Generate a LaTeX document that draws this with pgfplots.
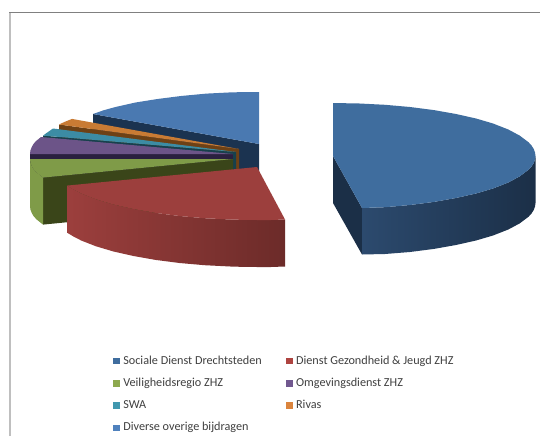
\documentclass[border=0pt]{standalone}
\usepackage{fontspec}
\setmainfont{Carlito}
\usepackage{pgfplots}
\pgfplotsset{compat=1.18}
\definecolor{blueTop}{HTML}{3F6D9E}
\definecolor{blueCut}{HTML}{1B2F47}
\definecolor{blueSide}{HTML}{2C4A6E}
\definecolor{redTop}{HTML}{9C3F3D}
\definecolor{redMid}{HTML}{8E3B39}
\definecolor{redDark}{HTML}{6C2B29}
\definecolor{greenTop}{HTML}{7F9B48}
\definecolor{greenCut}{HTML}{3A4519}
\definecolor{purpleTop}{HTML}{6C5488}
\definecolor{purpleCut}{HTML}{2A203F}
\definecolor{tealTop}{HTML}{3C8CA4}
\definecolor{tealCut}{HTML}{17404C}
\definecolor{orangeTop}{HTML}{C97B34}
\definecolor{orangeCut}{HTML}{6E4115}
\definecolor{skyTop}{HTML}{4A79B1}
\definecolor{skyCut}{HTML}{1B3350}
\definecolor{keyRed}{HTML}{AE4440}
\definecolor{keyGreen}{HTML}{8DA94E}
\definecolor{keyPurple}{HTML}{71588F}
\definecolor{keyTeal}{HTML}{4198AF}
\definecolor{keyOrange}{HTML}{DB843D}
\definecolor{keySky}{HTML}{4F81BD}
\begin{document}
\begin{tikzpicture}
\begin{axis}[
    scale only axis, width=540pt, height=436pt,
    xmin=0, xmax=540, ymin=0, ymax=436, y dir=reverse,
    axis lines=none,
    legend columns=2,
    legend cell align=left,
    legend image code/.code={\fill[draw=none,#1] (0pt,-3.4pt) rectangle (7.4pt,3.4pt);},
    legend style={at={(113/540,1-355/436)}, anchor=north west, draw=none, fill=none,
        inner sep=0pt, outer sep=0pt,
        font=\fontsize{12.2}{14}\selectfont, text=black!75,
        nodes={inner sep=0pt, text height=9pt, text depth=3pt},
        row sep=10.3pt,
        /tikz/every odd column/.append style={column sep=2.9pt},
        /tikz/every even column/.append style={column sep=24pt}},
]
% page and frame
\addplot[forget plot, fill=white, draw=none] coordinates {(0,0) (540,0) (540,436) (0,436)};
\addplot[forget plot, draw=black!25, line width=1.6pt] coordinates {(9.8,436) (9.8,12.5)};
\addplot[forget plot, draw=black!50, line width=0.9pt] coordinates {(9,12.5) (540,12.5)};

% Diverse overige bijdragen
\addplot[forget plot, fill=skyCut, draw=none] coordinates {(93,114) (259,144) (259,191) (93,161)};
\addplot[forget plot, fill=skyTop, draw=none] coordinates {(259,144) (93,114) (103.5,110.3) (115.5,107) (135.5,102.5) (157.5,99) (181,96) (206.5,93.6) (232.5,92.3) (259,92)};

% Rivas
\addplot[forget plot, fill=orangeCut, draw=none] coordinates {(239,149) (59,124.5) (59,171.5) (239,196)};
\addplot[forget plot, fill=orangeTop, draw=none] coordinates {(239,149) (59,124.5) (65,121.7) (72,118.9)};

% SWA
\addplot[forget plot, fill=tealCut, draw=none] coordinates {(236,152) (43,135.6) (43,182.6) (236,199)};
\addplot[forget plot, fill=tealTop, draw=none] coordinates {(236,152) (43,135.6) (47,132.7) (53,128.5)};

% Omgevingsdienst ZHZ
\addplot[forget plot, fill=purpleCut, draw=none] coordinates {(233,154) (30,154) (30,201) (233,201)};
\addplot[forget plot, fill=purpleTop, draw=none] coordinates {(233,154) (30,154) (30.4,150.5) (31.7,147.1) (33.5,144) (35.5,141.5) (41,137)};

% Veiligheidsregio ZHZ
\addplot[forget plot, fill=greenCut, draw=none] coordinates {(233,159) (43,177.6) (43,224.6) (233,206)};
\addplot[forget plot, fill=greenTop, draw=none] coordinates {(43,177.6) (36.9,172.7) (33.8,169.5) (31.7,165.9) (30.4,162.5) (30,159) (30,206) (30.4,209.5) (31.7,212.9) (33.8,216.5) (36.9,219.7) (43,224.6)};
\addplot[forget plot, fill=greenTop, draw=none] coordinates {(233,159) (43,177.6) (36.9,172.7) (33.8,169.5) (31.7,165.9) (30.4,162.5) (30,159)};

% Dienst Gezondheid & Jeugd ZHZ
\addplot[forget plot, left color=redTop, middle color=redMid, right color=redDark, draw=none]
    coordinates {(285,219.5) (271,220) (257,220) (243.7,219.9) (230.5,219.5) (204.5,218.2) (179.5,216) (155.5,212.9) (133.5,209) (113.5,204.5) (96,199.3) (81.2,193.5) (73.5,189.5) (67,185.6)
                 (67,232.6) (73.5,236.5) (81.2,240.5) (96,246.3) (113.5,251.5) (133.5,256) (155.5,259.9) (179.5,263) (204.5,265.2) (230.5,266.5) (243.7,266.9) (257,267) (271,267) (285,266.5)};
\addplot[forget plot, fill=redTop, draw=none]
    coordinates {(257,167) (285,219.5) (271,220) (257,220) (243.7,219.9) (230.5,219.5) (204.5,218.2) (179.5,216) (155.5,212.9) (133.5,209) (113.5,204.5) (96,199.3) (81.2,193.5) (73.5,189.5) (67,185.6)};

% Sociale Dienst Drechtsteden
\addplot[forget plot, fill=blueCut, draw=none] coordinates {(333,156) (362,208) (362,254.5) (333,203)};
\addplot[forget plot, left color=blueSide, middle color=blueCut, right color=blueCut, draw=none]
    coordinates {(535.5,156) (535,159.5) (533.8,162.9) (531.5,166.5) (528.6,169.7) (519.5,176.5) (508.3,182.5) (493,188.5) (476,193.5) (456,198) (434,201.9) (410,205) (385,207.2) (362,208)
                 (362,254.5) (385,254) (410,252) (434,248.9) (456,245) (476,240.5) (493,235.5) (508.3,229.5) (519.5,223.5) (528.6,216.7) (531.5,213.5) (533.8,209.9) (535,206.5) (535.5,203)};
\addplot[forget plot, fill=blueTop, draw=none]
    coordinates {(333,156) (333,103) (359.5,103.5) (385,104.8) (410,107) (434,110.1) (456,114) (476,118.5) (493,123.5) (508.3,129.5) (519.5,135.5) (528.6,142.3) (531.5,145.5) (533.8,149.1) (535,152.5) (535.5,156)
                 (535,159.5) (533.8,162.9) (531.5,166.5) (528.6,169.7) (519.5,176.5) (508.3,182.5) (493,188.5) (476,193.5) (456,198) (434,201.9) (410,205) (385,207.2) (362,208)};

\addlegendimage{fill=blueTop}
\addlegendentry{Sociale Dienst Drechtsteden}
\addlegendimage{fill=keyRed}
\addlegendentry{Dienst Gezondheid \& Jeugd ZHZ}
\addlegendimage{fill=keyGreen}
\addlegendentry{Veiligheidsregio ZHZ}
\addlegendimage{fill=keyPurple}
\addlegendentry{Omgevingsdienst ZHZ}
\addlegendimage{fill=keyTeal}
\addlegendentry{SWA}
\addlegendimage{fill=keyOrange}
\addlegendentry{Rivas}
\addlegendimage{fill=keySky}
\addlegendentry{Diverse overige bijdragen}
\end{axis}
\end{tikzpicture}
\end{document}
